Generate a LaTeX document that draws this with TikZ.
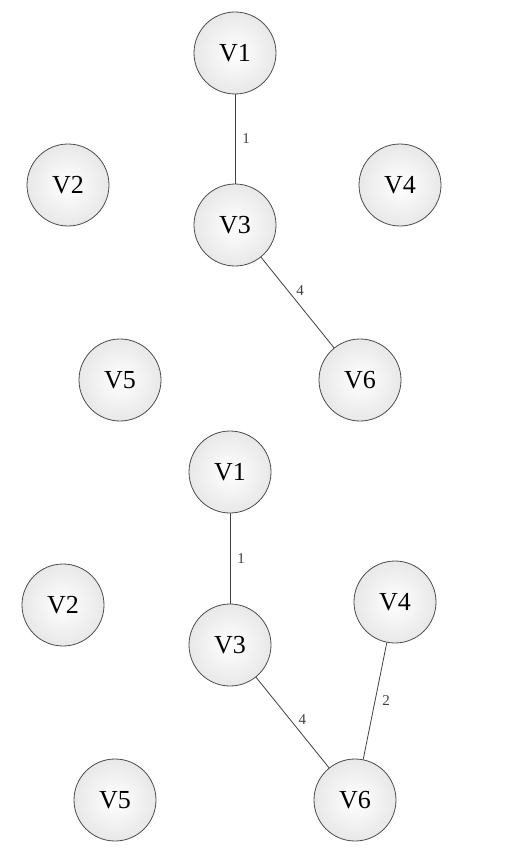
\documentclass[tikz,border=0pt]{standalone}
\usepackage{fontspec}
\setmainfont{Liberation Serif}
\begin{document}
\begin{tikzpicture}[x=1pt,y=-1pt,
  vnode/.style={circle,draw=black!70,line width=0.8pt,minimum size=82pt,inner sep=0pt,
    shading=radial,inner color=white,outer color=black!9,font=\fontsize{26}{29}\selectfont},
  edge/.style={draw=black!75,line width=0.8pt},
  wlabel/.style={font=\fontsize{15}{17}\selectfont,text=black!75,inner sep=2pt}]
\useasboundingbox (0,0) rectangle (505,848);
% top graph
\node[vnode] (a1) at (235,53) {V1};
\node[vnode] (a2) at (68,185) {V2};
\node[vnode] (a4) at (400,185) {V4};
\node[vnode] (a3) at (235,225) {V3};
\node[vnode] (a5) at (120,380) {V5};
\node[vnode] (a6) at (360,380) {V6};
\draw[edge] (a1) -- node[wlabel,right,xshift=5pt]{1} (a3);
\draw[edge] (a3) -- node[wlabel,above right,pos=0.45]{4} (a6);
% bottom graph
\node[vnode] (b1) at (230,472) {V1};
\node[vnode] (b2) at (63,605) {V2};
\node[vnode] (b4) at (395,602) {V4};
\node[vnode] (b3) at (230,645) {V3};
\node[vnode] (b5) at (115,800) {V5};
\node[vnode] (b6) at (355,800) {V6};
\draw[edge] (b1) -- node[wlabel,right,xshift=5pt]{1} (b3);
\draw[edge] (b3) -- node[wlabel,above right,pos=0.55]{4} (b6);
\draw[edge] (b4) -- node[wlabel,right,pos=0.5,xshift=5pt]{2} (b6);
\end{tikzpicture}
\end{document}
